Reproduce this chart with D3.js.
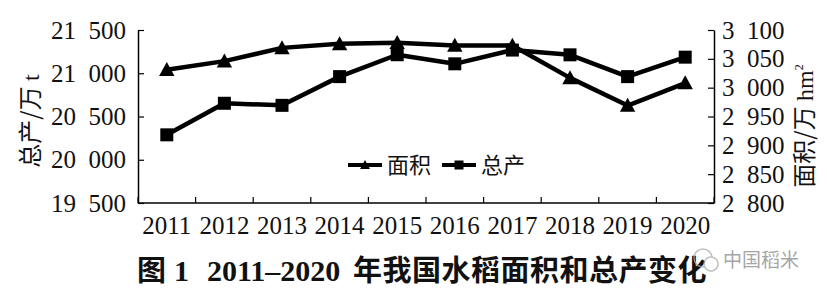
<!DOCTYPE html>
<html>
<head>
<meta charset="utf-8">
<script src="https://cdn.jsdelivr.net/npm/d3@7"></script>
<style>
  html, body { margin: 0; padding: 0; background: #fff; }
  svg { display: block; }
</style>
</head>
<body>
<svg id="chart" width="827" height="295"></svg>
<script>
// Years on the category axis
const years = ["2011", "2012", "2013", "2014", "2015", "2016", "2017", "2018", "2019", "2020"];
// Rice planting area, 10^4 hm² (right axis)
const area = [3031, 3046, 3069, 3076, 3078, 3073, 3073, 3017, 2969, 3008];
// Total rice production, 10^4 t (left axis)
const production = [20288, 20653, 20629, 20961, 21214, 21109, 21268, 21213, 20961, 21186];
// Axis ticks
const leftTicks = [19500, 20000, 20500, 21000, 21500];
const rightTicks = [2800, 2850, 2900, 2950, 3000, 3050, 3100];

const svg = d3.select("#chart");
const margin = { left: 138, right: 714, top: 30, bottom: 203 };

const serif = "'Liberation Serif', 'Times New Roman', serif";
const cjk = "'Noto Sans CJK SC', sans-serif";
const tickFont = 25;

const x = d3.scaleBand().domain(years).range([margin.left, margin.right]);
const cx = d => x(d) + x.bandwidth() / 2;
const yL = d3.scaleLinear().domain([19500, 21500]).range([margin.bottom, margin.top]);
const yR = d3.scaleLinear().domain([2800, 3100]).range([margin.bottom, margin.top]);

// Left axis (ticks point into the plot)
const gL = svg.append("g")
  .attr("transform", `translate(${margin.left},0)`)
  .call(d3.axisLeft(yL).tickValues(leftTicks).tickFormat("")
    .tickSizeInner(-6).tickSizeOuter(0));
// Right axis
const gR = svg.append("g")
  .attr("transform", `translate(${margin.right},0)`)
  .call(d3.axisRight(yR).tickValues(rightTicks).tickFormat("")
    .tickSizeInner(-6).tickSizeOuter(0));

// Tick labels written as "thousands  remainder" with a half-em gap between the groups
const digitW = tickFont * 0.5;
function thousandsLabels(g, side) {
  g.selectAll(".tick").each(function (d) {
    const t = d3.select(this);
    const s = String(d), head = s.slice(0, -3), tail = s.slice(-3);
    const lab = (txt, xPos, anchor) => t.append("text")
      .attr("x", xPos).attr("dy", "0.32em").attr("text-anchor", anchor)
      .style("font-family", serif).style("font-size", tickFont + "px")
      .attr("fill", "#111").text(txt);
    if (side === "left") {
      lab(tail, -12, "end");
      lab(head, -12 - 3 * digitW - digitW, "end");
    } else {
      lab(head, 8, "start");
      lab(tail, 8 + head.length * digitW + digitW, "start");
    }
  });
}
thousandsLabels(gL, "left");
thousandsLabels(gR, "right");

// Bottom axis: labels centred in each band
const gB = svg.append("g")
  .attr("transform", `translate(0,${margin.bottom})`)
  .call(d3.axisBottom(x).tickSize(0).tickPadding(13));
gB.select(".domain").remove();
gB.selectAll("text").style("font-family", serif).style("font-size", tickFont + "px").attr("fill", "#111");
// Band boundary ticks pointing up into the plot
const bounds = years.map(d => x(d)).concat([x.range()[1]]);
svg.append("g").selectAll("line").data(bounds).join("line")
  .attr("x1", d => d).attr("x2", d => d)
  .attr("y1", margin.bottom).attr("y2", margin.bottom - 6)
  .attr("stroke", "#000").attr("stroke-width", 1.2);
svg.append("line")
  .attr("x1", margin.left).attr("x2", margin.right)
  .attr("y1", margin.bottom).attr("y2", margin.bottom)
  .attr("stroke", "#000").attr("stroke-width", 1.5);

[gL, gR].forEach(g => {
  g.selectAll(".domain").attr("stroke", "#000").attr("stroke-width", 1.5);
  g.selectAll(".tick line").attr("stroke", "#000").attr("stroke-width", 1.2);
});

// Marker shapes
const triPath = (s) => `M0,${-s * 0.55}L${s * 0.55},${s * 0.45}L${-s * 0.55},${s * 0.45}Z`;
const sqPath = (s) => `M${-s / 2},${-s / 2}h${s}v${s}h${-s}Z`;

// Area series (triangles)
svg.append("path")
  .datum(years.map((d, i) => [cx(d), yR(area[i])]))
  .attr("d", d3.line())
  .attr("fill", "none").attr("stroke", "#000").attr("stroke-width", 4.5)
  .attr("stroke-linejoin", "round");
svg.append("g").selectAll("path").data(years).join("path")
  .attr("transform", (d, i) => `translate(${cx(d)},${yR(area[i])})`)
  .attr("d", triPath(14)).attr("fill", "#000");

// Production series (squares)
svg.append("path")
  .datum(years.map((d, i) => [cx(d), yL(production[i])]))
  .attr("d", d3.line())
  .attr("fill", "none").attr("stroke", "#000").attr("stroke-width", 4.5)
  .attr("stroke-linejoin", "round");
svg.append("g").selectAll("path").data(years).join("path")
  .attr("transform", (d, i) => `translate(${cx(d)},${yL(production[i])})`)
  .attr("d", sqPath(13)).attr("fill", "#000");

// Legend
const legend = [
  { name: "面积", shape: triPath(9), x0: 348 },
  { name: "总产", shape: sqPath(9), x0: 442 }
];
const lg = svg.append("g").attr("transform", "translate(0,165)");
legend.forEach(l => {
  lg.append("line").attr("x1", l.x0).attr("x2", l.x0 + 34).attr("y1", 0).attr("y2", 0)
    .attr("stroke", "#000").attr("stroke-width", 4);
  lg.append("path").attr("d", l.shape).attr("transform", `translate(${l.x0 + 17},0)`).attr("fill", "#000");
  lg.append("text").attr("x", l.x0 + 39).attr("y", 8).text(l.name)
    .style("font-family", cjk).style("font-size", "22px").attr("fill", "#111");
});

// Axis titles
const lt = svg.append("text")
  .attr("transform", "translate(39,121) rotate(-90)")
  .attr("text-anchor", "middle")
  .style("font-family", cjk).style("font-size", "24px").attr("fill", "#111");
lt.append("tspan").text("总产/万 ");
lt.append("tspan").style("font-family", serif).text("t");
const rt = svg.append("text")
  .attr("transform", "translate(813,126) rotate(-90)")
  .attr("text-anchor", "middle")
  .style("font-family", cjk).style("font-size", "24px").attr("fill", "#111");
rt.append("tspan").text("面积/万 ");
rt.append("tspan").style("font-family", serif).text("hm");
rt.append("tspan").style("font-family", serif).style("font-size", "12px").attr("dy", -10).text("2");

// Caption
const cap = svg.append("text")
  .attr("y", 281)
  .attr("font-weight", "bold").style("font-size", "29px").attr("fill", "#111");
cap.append("tspan").attr("x", 137).style("font-family", cjk).text("图");
cap.append("tspan").attr("x", 174).style("font-family", serif).style("font-size", "30px").text("1");
cap.append("tspan").attr("x", 207).style("font-family", serif).style("font-size", "30px").text("2011–2020");
cap.append("tspan").attr("x", 353).style("font-family", cjk)
  .attr("letter-spacing", 0.5).text("年我国水稻面积和总产变化");

// Account mark
const wm = svg.append("g").attr("opacity", 0.75);
wm.append("circle").attr("cx", 703).attr("cy", 258).attr("r", 9)
  .attr("fill", "none").attr("stroke", "#aaa").attr("stroke-width", 1.5);
wm.append("circle").attr("cx", 711).attr("cy", 264).attr("r", 7)
  .attr("fill", "#fff").attr("stroke", "#aaa").attr("stroke-width", 1.5);
wm.append("text").attr("x", 723).attr("y", 267)
  .style("font-family", cjk).style("font-size", "19px").attr("fill", "#888")
  .text("中国稻米");
</script>
</body>
</html>
